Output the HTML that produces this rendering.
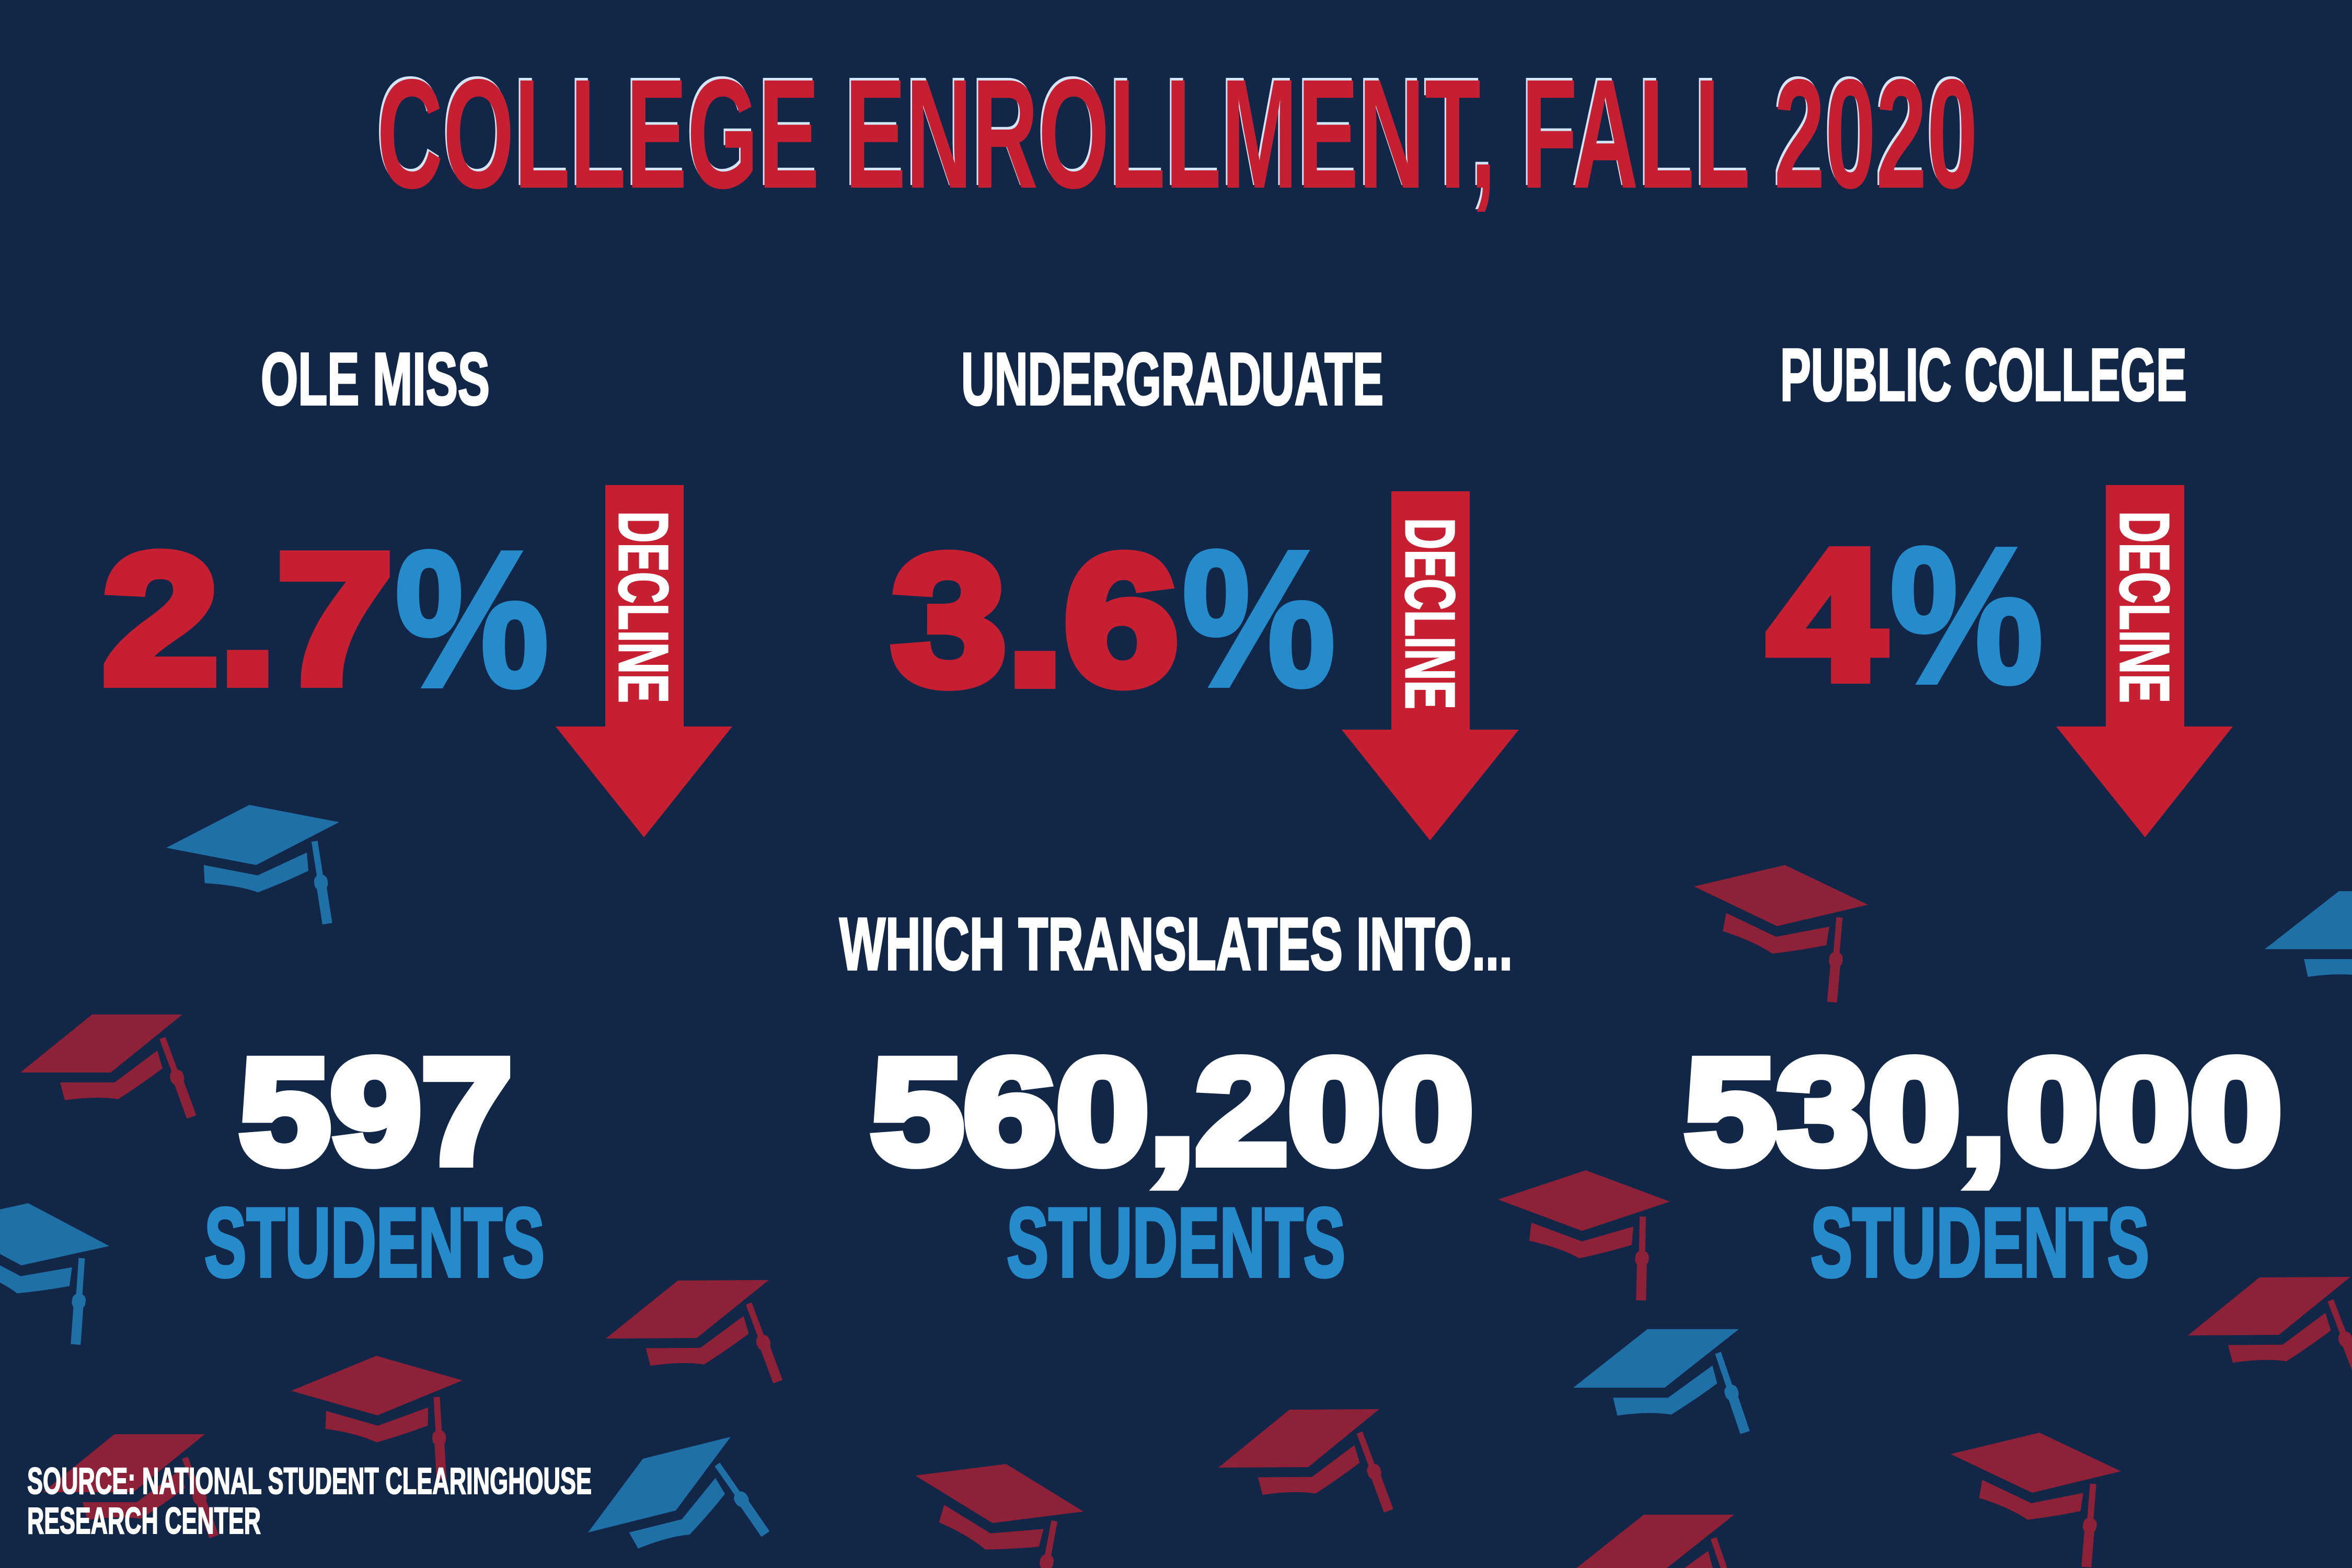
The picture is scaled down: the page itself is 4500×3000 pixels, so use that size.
<!DOCTYPE html>
<html>
<head>
<meta charset="utf-8">
<style>
html,body{margin:0;padding:0;background:#122648;}
svg{display:block;}
text{font-family:"Liberation Sans",Arial,sans-serif;font-weight:bold;}
</style>
</head>
<body>
<svg width="4500" height="3000" viewBox="0 0 4500 3000" xmlns="http://www.w3.org/2000/svg">
<defs>
<g id="cap">
 <polygon points="0,0 1,0 1,1 0,1" fill="currentColor"/>
 <path d="M0.575,-0.171 L1.176,-0.171 L1.215,0.378 L1.515,0.072 Q1.50,-0.20 1.445,-0.459 Q1.157,-0.40 0.869,-0.477 Z" fill="currentColor"/>
 <line x1="1.10" y1="0.595" x2="1.80" y2="-0.085" stroke="currentColor" stroke-width="12" vector-effect="non-scaling-stroke"/>
 <line x1="1.80" y1="-0.085" x2="2.5" y2="-0.766" stroke="currentColor" stroke-width="19" vector-effect="non-scaling-stroke"/>
 <line x1="1.78" y1="-0.065" x2="1.82" y2="-0.105" stroke="currentColor" stroke-width="26" stroke-linecap="round" vector-effect="non-scaling-stroke"/>
</g>
</defs>
<rect width="4500" height="3000" fill="#122648"/>

<!-- graduation caps -->
<use href="#cap" style="color:#2070A8" transform="matrix(172,33,159,-82,318,1622)"/>
<use href="#cap" style="color:#8C2137" transform="matrix(173,0,137,-111,39,2052)"/>
<use href="#cap" style="color:#2070A8" transform="matrix(155,82,168,-37,-114,2339)"/>
<use href="#cap" style="color:#8C2137" transform="matrix(173,0,137,-111,82,2855)"/>
<use href="#cap" style="color:#8C2137" transform="matrix(174,-1,138,-111,1159,2561)"/>
<use href="#cap" style="color:#8C2137" transform="matrix(165,47,163,-67,557,2661)"/>
<use href="#cap" style="color:#2070A8" transform="matrix(168,-42,105,-141,1125,2932)"/>
<use href="#cap" style="color:#8C2137" transform="matrix(148,91,174,-22,1751,2823)"/>
<use href="#cap" style="color:#8C2137" transform="matrix(172,-1,136,-111,2331,2808)"/>
<use href="#cap" style="color:#8C2137" transform="matrix(159,76,174,-41,3241,1696)"/>
<use href="#cap" style="color:#2070A8" transform="matrix(173,0,142,-111,4333,1816)"/>
<use href="#cap" style="color:#8C2137" transform="matrix(161,60,168,-56,2866,2295)"/>
<use href="#cap" style="color:#2070A8" transform="matrix(175,0,142,-112,3010,2655)"/>
<use href="#cap" style="color:#8C2137" transform="matrix(156,74,170,-41,3732,2782)"/>
<use href="#cap" style="color:#8C2137" transform="matrix(174,-1,137,-111,4186,2555)"/>
<use href="#cap" style="color:#8C2137" transform="matrix(173,0,140,-111,3005,3009)"/>

<!-- arrows -->
<polygon fill="#C61F31" points="1158,928 1308,928 1308,1390 1401,1390 1232,1602 1063,1390 1158,1390"/>
<polygon fill="#C61F31" points="2662,940 2812,940 2812,1396 2906,1396 2736,1608 2567,1396 2662,1396"/>
<polygon fill="#C61F31" points="4029,928 4179,928 4179,1390 4272,1390 4104,1602 3934,1390 4029,1390"/>

<!-- title -->
<text x="718" y="354" font-size="298" textLength="3063" lengthAdjust="spacingAndGlyphs" fill="#d3e5f7">COLLEGE ENROLLMENT, FALL 2020</text>
<text x="721" y="359" font-size="298" textLength="3063" lengthAdjust="spacingAndGlyphs" fill="#C61F31">COLLEGE ENROLLMENT, FALL 2020</text>

<!-- headings -->
<text x="499" y="774" font-size="142" textLength="438" lengthAdjust="spacingAndGlyphs" fill="#ffffff" stroke="#ffffff" stroke-width="4">OLE MISS</text>
<text x="1839" y="774" font-size="142" textLength="808" lengthAdjust="spacingAndGlyphs" fill="#ffffff" stroke="#ffffff" stroke-width="4">UNDERGRADUATE</text>
<text x="3406" y="766" font-size="142" textLength="778" lengthAdjust="spacingAndGlyphs" fill="#ffffff" stroke="#ffffff" stroke-width="4">PUBLIC COLLEGE</text>

<!-- percentages -->
<text x="196" y="1306" font-size="353" textLength="556" lengthAdjust="spacingAndGlyphs" fill="#C61F31" stroke="#C61F31" stroke-width="20">2.7</text>
<text x="755" y="1313" font-size="372" textLength="296" lengthAdjust="spacingAndGlyphs" fill="#268BCB" stroke="#268BCB" stroke-width="8">%</text>

<text x="1706" y="1308" font-size="353" textLength="549" lengthAdjust="spacingAndGlyphs" fill="#C61F31" stroke="#C61F31" stroke-width="20">3.6</text>
<text x="2261" y="1312" font-size="372" textLength="295" lengthAdjust="spacingAndGlyphs" fill="#268BCB" stroke="#268BCB" stroke-width="8">%</text>

<text x="3383" y="1298" font-size="353" textLength="223" lengthAdjust="spacingAndGlyphs" fill="#C61F31" stroke="#C61F31" stroke-width="20">4</text>
<text x="3615" y="1306" font-size="372" textLength="295" lengthAdjust="spacingAndGlyphs" fill="#268BCB" stroke="#268BCB" stroke-width="8">%</text>

<!-- DECLINE labels -->
<text transform="translate(1185,978) rotate(90)" font-size="134" textLength="367" lengthAdjust="spacingAndGlyphs" fill="#ffffff" stroke="#ffffff" stroke-width="3">DECLINE</text>
<text transform="translate(2690,991) rotate(90)" font-size="134" textLength="366" lengthAdjust="spacingAndGlyphs" fill="#ffffff" stroke="#ffffff" stroke-width="3">DECLINE</text>
<text transform="translate(4057,978) rotate(90)" font-size="134" textLength="367" lengthAdjust="spacingAndGlyphs" fill="#ffffff" stroke="#ffffff" stroke-width="3">DECLINE</text>

<!-- which translates -->
<text x="1606" y="1855" font-size="142" textLength="1288" lengthAdjust="spacingAndGlyphs" fill="#ffffff" stroke="#ffffff" stroke-width="4">WHICH TRANSLATES INTO...</text>

<!-- student counts -->
<text x="458" y="2225" font-size="285" textLength="522" lengthAdjust="spacingAndGlyphs" fill="#ffffff" stroke="#ffffff" stroke-width="18">597</text>
<text x="1666" y="2225" font-size="285" textLength="1153" lengthAdjust="spacingAndGlyphs" fill="#ffffff" stroke="#ffffff" stroke-width="18">560,200</text>
<text x="3223" y="2225" font-size="285" textLength="1143" lengthAdjust="spacingAndGlyphs" fill="#ffffff" stroke="#ffffff" stroke-width="18">530,000</text>

<text x="391" y="2442" font-size="188" textLength="651" lengthAdjust="spacingAndGlyphs" fill="#268BCB" stroke="#268BCB" stroke-width="6">STUDENTS</text>
<text x="1926" y="2442" font-size="188" textLength="648" lengthAdjust="spacingAndGlyphs" fill="#268BCB" stroke="#268BCB" stroke-width="6">STUDENTS</text>
<text x="3464" y="2442" font-size="188" textLength="648" lengthAdjust="spacingAndGlyphs" fill="#268BCB" stroke="#268BCB" stroke-width="6">STUDENTS</text>

<!-- source -->
<text x="52" y="2858" font-size="71" textLength="1080" lengthAdjust="spacingAndGlyphs" fill="#ffffff" stroke="#ffffff" stroke-width="2">SOURCE: NATIONAL STUDENT CLEARINGHOUSE</text>
<text x="52" y="2934" font-size="71" textLength="447" lengthAdjust="spacingAndGlyphs" fill="#ffffff" stroke="#ffffff" stroke-width="2">RESEARCH CENTER</text>
</svg>
</body>
</html>
